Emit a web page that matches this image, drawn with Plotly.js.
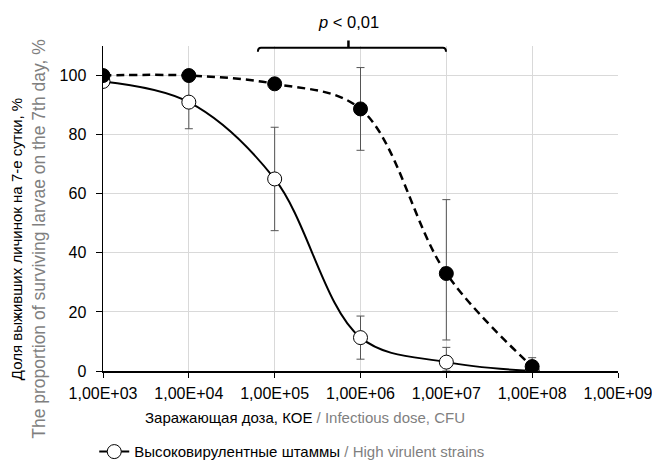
<!DOCTYPE html>
<html>
<head>
<meta charset="utf-8">
<script src="https://cdn.plot.ly/plotly-3.0.1.min.js"></script>
<style>html,body{margin:0;padding:0;background:#fff;}#chart{width:652px;height:462px;}</style>
</head>
<body>
<div id="chart"></div>
<script>
// Data
const doses = [1e3, 1e4, 1e5, 1e6, 1e7, 1e8];
const tickVals = [1e3, 1e4, 1e5, 1e6, 1e7, 1e8, 1e9];
const tickLabels = ["1,00E+03", "1,00E+04", "1,00E+05", "1,00E+06", "1,00E+07", "1,00E+08", "1,00E+09"];
const yTickVals = [0, 20, 40, 60, 80, 100];

const highVirulent = [98, 91, 65, 11.3, 3, 0];
const highErrPlus  = [0, 9, 17.5, 7.3, 5, 0];
const highErrMinus = [0, 9, 17.5, 7.3, 3, 0];

const lowVirulent = [100, 100, 97.2, 88.7, 33, 1.5];
const lowErrPlus  = [0, 0, 0, 14, 25, 3];
const lowErrMinus = [0, 0, 0, 14, 22.5, 3];

const FONT = "'Liberation Sans', Arial, sans-serif";
const GRAY = "#7f7f7f";

const traces = [
  {
    x: doses, y: highVirulent, type: "scatter", mode: "lines+markers",
    name: 'Высоковирулентные штаммы <span style="color:' + GRAY + '">/ High virulent strains</span>',
    line: {color: "#000", width: 2, shape: "spline", smoothing: 1},
    marker: {symbol: "circle", size: 14, color: "#fff", line: {color: "#000", width: 1}},
    error_y: {type: "data", symmetric: false, array: highErrPlus, arrayminus: highErrMinus,
              color: "#555", thickness: 1, width: 4},
    showlegend: true
  },
  {
    x: doses, y: lowVirulent, type: "scatter", mode: "lines+markers",
    name: "Низковирулентные штаммы",
    line: {color: "#000", width: 2.5, shape: "spline", smoothing: 1, dash: "8px,5px"},
    marker: {symbol: "circle", size: 14, color: "#000", line: {color: "#000", width: 1}},
    error_y: {type: "data", symmetric: false, array: lowErrPlus, arrayminus: lowErrMinus,
              color: "#555", thickness: 1, width: 4},
    showlegend: false
  }
];

const layout = {
  width: 652, height: 462,
  margin: {l: 103, r: 34, t: 46, b: 91, pad: 0},
  paper_bgcolor: "#fff", plot_bgcolor: "#fff",
  font: {family: FONT, size: 16, color: "#000"},
  showlegend: true,
  xaxis: {
    type: "log", range: [3, 9],
    tickvals: tickVals, ticktext: tickLabels,
    ticks: "outside", ticklen: 5, tickcolor: "#000", tickwidth: 1,
    showline: true, linecolor: "#000", linewidth: 1.5,
    showgrid: true, gridcolor: "#d9d9d9", gridwidth: 1,
    zeroline: false, ticklabelstandoff: 2, ticklabeloverflow: "allow", automargin: false,
    tickfont: {family: FONT, size: 16, color: "#000"}
  },
  yaxis: {
    range: [0, 110], tickvals: yTickVals,
    ticks: "outside", ticklen: 6, tickcolor: "#000", tickwidth: 1,
    showline: true, linecolor: "#000", linewidth: 1.5,
    showgrid: true, gridcolor: "#d9d9d9", gridwidth: 1,
    zeroline: false, ticklabelstandoff: 6, automargin: false,
    tickfont: {family: FONT, size: 16, color: "#000"}
  },
  legend: {
    orientation: "h", x: -0.017, xanchor: "left",
    yref: "container", y: 0.022, yanchor: "middle",
    font: {family: FONT, size: 15, color: "#000"}, bgcolor: "rgba(0,0,0,0)"
  },
  annotations: [
    {
      xref: "paper", yref: "paper", x: 0.392, y: -0.142, xanchor: "center", yanchor: "middle",
      showarrow: false,
      text: 'Заражающая доза, КОЕ <span style="color:' + GRAY + '">/ Infectious dose, CFU</span>',
      font: {family: FONT, size: 15, color: "#000"}
    },
    {
      xref: "paper", yref: "paper", x: -0.1437, y: 0.407, xanchor: "center", yanchor: "middle",
      showarrow: false, textangle: -90,
      text: '<span style="font-size:15px">Доля выживших личинок на 7-е сутки, %</span><br><span style="color:' + GRAY + '">The proportion of surviving larvae on the 7th day, %</span>',
      font: {family: FONT, size: 17.5, color: "#000"}
    },
    {
      xref: "paper", yref: "paper", x: 0.4766, y: 1.075, xanchor: "center", yanchor: "middle",
      showarrow: false,
      text: "<i>p</i> &lt; 0,01",
      font: {family: FONT, size: 16.5, color: "#000"}
    }
  ],
  shapes: [
    {
      type: "path", xref: "paper", yref: "paper",
      path: "M 0.3008 0.982 Q 0.3008 0.9945 0.3068 0.9945 L 0.6600 0.9945 Q 0.6660 0.9945 0.6660 0.982",
      line: {color: "#000", width: 2}
    },
    {
      type: "line", xref: "paper", yref: "paper", x0: 0.4766, x1: 0.4766, y0: 0.9945, y1: 1.017,
      line: {color: "#000", width: 2.5}
    }
  ]
};

Plotly.newPlot("chart", traces, layout, {displayModeBar: false, staticPlot: true});
</script>
</body>
</html>
